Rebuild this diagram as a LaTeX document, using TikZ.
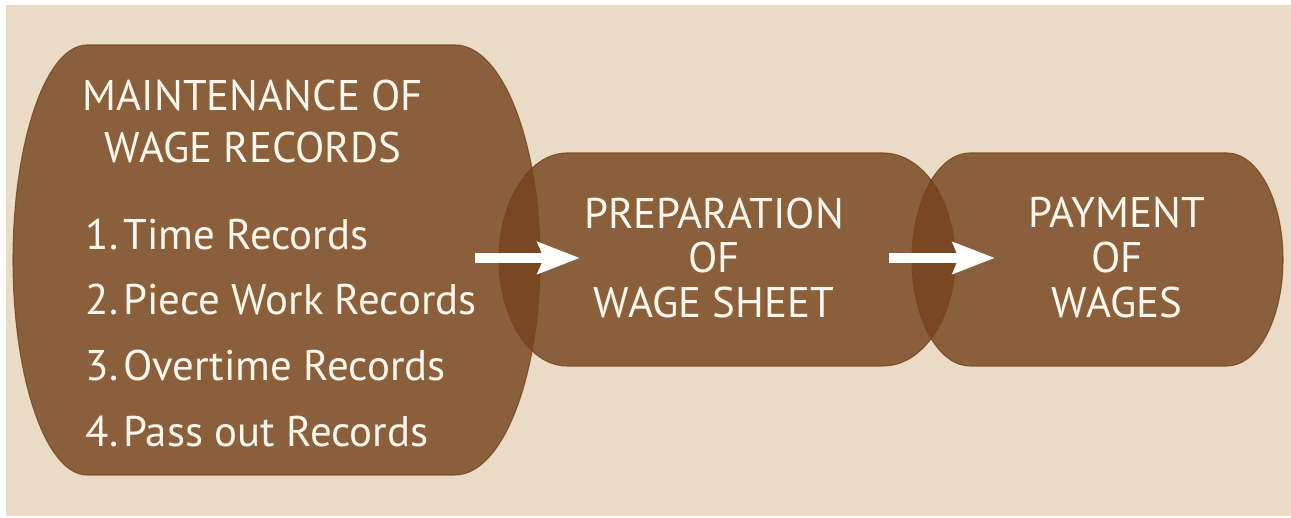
\documentclass[tikz,border=0pt]{standalone}
\usepackage{fontspec}
\setmainfont{PT Sans}
\usepackage{tikz}
\usetikzlibrary{arrows.meta,positioning}
\usepackage{xcolor}

\definecolor{wagebrown}{RGB}{118,68,29}
\definecolor{wagebeige}{RGB}{233,219,198}
\definecolor{wagetext}{RGB}{253,246,236}

\begin{document}
\begin{tikzpicture}[
    blob/.style={fill=wagebrown, draw=wagebrown, line width=0.3pt, opacity=0.82},
    label/.style={text=wagetext, inner sep=0pt, font=\fontsize{12.2}{14.8}\selectfont},
    flow/.style={white, line width=1mm, -{Stealth[length=4.2mm, width=3.1mm, inset=0.6mm]}}
  ]
    \useasboundingbox (0,0) rectangle (12.91,5.18);

    % Background
    \fill[white] (0,0) rectangle (12.91,5.18);
    \fill[wagebeige] (0.06,0.02) rectangle (12.91,5.13);

    % Draw shapes
    \path[blob] (0.87,4.73) -- (4.55,4.73) arc[start angle=90, end angle=-90, x radius=0.85, y radius=2.15]
        -- (0.87,0.43) arc[start angle=270, end angle=90, x radius=0.74, y radius=2.15] -- cycle;
    \path[blob] (5.67,3.65) -- (8.83,3.65) arc[start angle=90, end angle=-90, x radius=0.72, y radius=1.065]
        -- (5.67,1.52) arc[start angle=270, end angle=90, x radius=0.68, y radius=1.065] -- cycle;
    \path[blob] (9.70,3.65) -- (12.27,3.65) arc[start angle=90, end angle=-90, x radius=0.56, y radius=1.065]
        -- (9.70,1.52) arc[start angle=270, end angle=90, x radius=0.58, y radius=1.065] -- cycle;

    % Labels
    \node[label, align=center] (maint) at (2.53,3.96) {MAINTENANCE OF\\WAGE RECORDS};
    \node[label, align=left, anchor=north west, font=\fontsize{12.2}{18.7}\selectfont] (records) at (0.85,3.00)
        {1.\hspace{0.12em}Time Records\\2.\hspace{0.12em}Piece Work Records\\3.\hspace{0.12em}Overtime Records\\4.\hspace{0.12em}Pass out Records};
    \node[label, align=center, font=\fontsize{12.2}{12.8}\selectfont] (prep) at (7.14,2.60) {PREPARATION\\OF\\WAGE SHEET};
    \node[label, align=center, font=\fontsize{12.2}{12.8}\selectfont] (pay) at (11.17,2.60) {PAYMENT\\OF\\WAGES};

    % Draw arrows
    \coordinate (out1) at (4.75,2.60);
    \coordinate (in1) at (5.80,2.60);
    \coordinate (out2) at (8.89,2.60);
    \coordinate (in2) at (9.95,2.60);
    \draw[flow] (out1) -- (in1);
    \draw[flow] (out2) -- (in2);
\end{tikzpicture}
\end{document}
